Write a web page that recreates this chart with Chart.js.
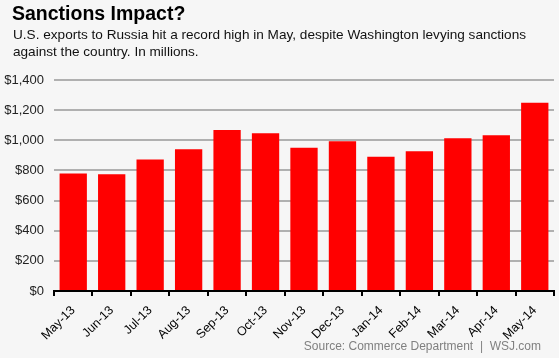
<!DOCTYPE html>
<html>
<head>
<meta charset="utf-8">
<script src="https://cdn.jsdelivr.net/npm/chart.js@4/dist/chart.umd.min.js"></script>
<style>
  html, body { margin: 0; padding: 0; background: #f6f6f6; }
  body { width: 559px; height: 358px; position: relative; overflow: hidden; font-family: "Liberation Sans", Arial, sans-serif; }
  #title { position: absolute; left: 12px; top: 2px; font-size: 19.5px; font-weight: bold; color: #000; white-space: nowrap; }
  #sub { position: absolute; left: 13px; top: 27px; font-size: 13.6px; line-height: 16.5px; color: #111; width: 540px; }
  #source { position: absolute; right: 18px; top: 339px; font-size: 12px; color: #808080; white-space: nowrap; }
  #wrap { position: absolute; left: 0; top: 0; width: 559px; height: 358px; }
</style>
</head>
<body>
<div id="wrap"><canvas id="c" width="559" height="358"></canvas></div>
<div id="title">Sanctions Impact?</div>
<div id="sub">U.S. exports to Russia hit a record high in May, despite Washington levying sanctions against the country. In millions.</div>
<div id="source">Source: Commerce Department &nbsp;|&nbsp; WSJ.com</div>
<script>
const categories = ["May-13","Jun-13","Jul-13","Aug-13","Sep-13","Oct-13","Nov-13","Dec-13","Jan-14","Feb-14","Mar-14","Apr-14","May-14"];
const exportsMillions = [780, 775, 873, 940, 1068, 1046, 950, 993, 891, 928, 1013, 1033, 1249];
const yTicks = [0, 200, 400, 600, 800, 1000, 1200, 1400];

new Chart(document.getElementById('c'), {
  type: 'bar',
  data: {
    labels: categories,
    datasets: [{
      data: exportsMillions,
      backgroundColor: '#ff0000',
      borderWidth: 0,
      barPercentage: 0.71,
      categoryPercentage: 1.0
    }]
  },
  options: {
    responsive: false,
    animation: false,
    devicePixelRatio: 1,
    layout: { padding: { top: 80, right: 5, left: 0, bottom: 0 } },
    plugins: { legend: { display: false }, tooltip: { enabled: false }, title: { display: false } },
    scales: {
      x: {
        afterFit: s => { s.height = 67; },
        grid: { drawOnChartArea: false, color: '#000', lineWidth: 2, tickLength: 5, offset: true },
        border: { display: true, color: '#000', width: 2 },
        ticks: { minRotation: 45, maxRotation: 45, color: '#000', padding: 7, font: { family: 'Liberation Sans, Arial', size: 12.5 } }
      },
      y: {
        min: 0, max: 1400,
        afterFit: s => { s.width = 54; },
        afterBuildTicks: s => { s.ticks = yTicks.map(v => ({ value: v })); },
        grid: { color: '#b0b0b0', lineWidth: 2, drawTicks: false },
        border: { display: false },
        ticks: {
          color: '#222', padding: 10,
          font: { family: 'Liberation Sans, Arial', size: 13 },
          callback: v => '$' + v.toLocaleString('en-US')
        }
      }
    }
  }
});
</script>
</body>
</html>
